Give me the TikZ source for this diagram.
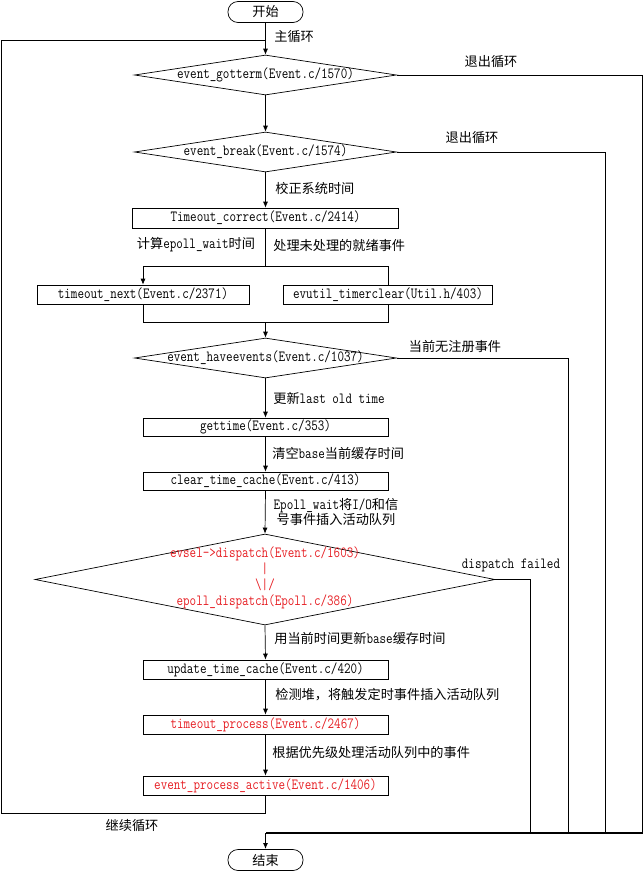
\documentclass[tikz,border=0pt]{standalone}
\usepackage{fontspec}
\setmonofont[FakeStretch=0.82]{Latin Modern Mono}
\newfontfamily\cjk[Scale=0.85]{Noto Sans CJK SC}
\newcommand\zhs[1]{{\cjk #1}}
\usetikzlibrary{shapes.geometric,arrows.meta}
\definecolor{fnred}{RGB}{230,30,35}
\begin{document}
\begin{tikzpicture}[x=1pt,y=-1pt, line width=0.7pt, font=\ttfamily\fontsize{15.5}{16}\selectfont,
  box/.style={draw, rectangle, inner sep=0pt, minimum height=19pt},
  dia/.style={draw, diamond, inner sep=0pt},
  term/.style={draw, rounded corners=10pt, minimum width=75pt, minimum height=21pt, inner sep=0pt},
  arr/.style={-{Latex[length=6pt,width=5pt]}},
  lbl/.style={inner sep=0pt, anchor=west},
  clbl/.style={inner sep=0pt},
  redtxt/.style={text=fnred}]
\useasboundingbox (0,0) rectangle (644,871);

% nodes
\node[term] (start) at (265.5,12) {\zhs{开始}};
\node[dia, minimum width=262pt, minimum height=40pt] (d1) at (265.5,75) {};
\node[clbl] (t1) at (d1) {event\_gotterm(Event.c/1570)};
\node[dia, minimum width=262pt, minimum height=40pt] (d2) at (265.5,152) {};
\node[clbl] (t2) at (d2) {event\_break(Event.c/1574)};
\node[box, minimum width=266pt, minimum height=20pt] (tc) at (265.5,218) {Timeout\_correct(Event.c/2414)};
\node[box, minimum width=212pt] (tn) at (143,294.5) {timeout\_next(Event.c/2371)};
\node[box, minimum width=209pt] (ev) at (388,294.5) {evutil\_timerclear(Util.h/403)};
\node[dia, minimum width=262pt, minimum height=40pt] (d3) at (265.5,358) {};
\node[clbl] (t3) at (d3) {event\_haveevents(Event.c/1037)};
\node[box, minimum width=245pt, minimum height=18pt] (gt) at (265.5,427) {gettime(Event.c/353)};
\node[box, minimum width=245pt, minimum height=18pt] (ctc) at (265.5,481) {clear\_time\_cache(Event.c/413)};
\node[dia, minimum width=460pt, minimum height=91pt] (d4) at (265,579.5) {};
\node[clbl, redtxt, align=center, font=\ttfamily\fontsize{15.5}{16}\selectfont] (t4) at (265,578) {evsel->dispatch(Event.c/1603)\\|\\\textbackslash|/\\epoll\_dispatch(Epoll.c/386)};
\node[box, minimum width=245pt] (utc) at (265.5,669.5) {update\_time\_cache(Event.c/420)};
\node[box, minimum width=245pt, redtxt] (tp) at (265.5,724.5) {timeout\_process(Event.c/2467)};
\node[box, minimum width=245pt, redtxt] (epa) at (265.5,785.5) {event\_process\_active(Event.c/1406)};
\node[term] (end) at (265.5,860) {\zhs{结束}};

% coordinates
\coordinate (lp) at (265.5,40);
\coordinate (ltl) at (1,40);
\coordinate (lbl) at (1,813);
\coordinate (lb) at (265.5,813);
\coordinate (j1) at (265.5,266);
\coordinate (j2) at (265.5,322);
\coordinate (e1) at (642.5,833);
\coordinate (e2) at (605,833);
\coordinate (e3) at (568,833);
\coordinate (e4) at (530,833);
\coordinate (mrg) at (265.5,833);

% connectors
\draw[arr] (start.south) -- (d1.north);
\draw[arr] (d1.south) -- (d2.north);
\draw[arr] (d2.south) -- (tc.north);
\draw (tc.south) -- (j1);
\draw (tn.north |- j1) -- (ev.north |- j1);
\draw[arr] (tn.north |- j1) -- (tn.north);
\draw (ev.north |- j1) -- (ev.north);
\draw (tn.south) -- (tn.south |- j2) -- (ev.south |- j2) -- (ev.south);
\draw[arr] (j2) -- (d3.north);
\draw[arr] (d3.south) -- (gt.north);
\draw[arr] (gt.south) -- (ctc.north);
\draw[arr] (ctc.south) -- (d4.north);
\draw[arr] (d4.south) -- (utc.north);
\draw[arr] (utc.south) -- (tp.north);
\draw[arr] (tp.south) -- (epa.north);
\draw (epa.south) -- (lb) -- (lbl) -- (ltl) -- (lp);
\draw (d1.east) -- (d1.east -| e1) -- (e1);
\draw (d2.east) -- (d2.east -| e2) -- (e2);
\draw (d3.east) -- (d3.east -| e3) -- (e3);
\draw (d4.east) -- (d4.east -| e4) -- (e4);
\draw[line width=1.5pt] (e1) -- (mrg);
\draw[arr, line width=1.2pt] (mrg) -- (end.north);

% labels
\node[lbl] (l1) at (274,37) {\zhs{主循环}};
\node[clbl] (l2) at (491,62) {\zhs{退出循环}};
\node[clbl] (l3) at (472,138) {\zhs{退出循环}};
\node[lbl] (l4) at (275,188) {\zhs{校正系统时间}};
\node[clbl] (l5) at (196,245) {\zhs{计算}epoll\_wait\zhs{时间}};
\node[lbl] (l6) at (273,245) {\zhs{处理未处理的就绪事件}};
\node[clbl] (l7) at (455,346) {\zhs{当前无注册事件}};
\node[lbl] (l8) at (273,398) {\zhs{更新}last old time};
\node[lbl] (l9) at (272,453) {\zhs{清空}base\zhs{当前缓存时间}};
\node[clbl, align=center, font=\ttfamily\fontsize{15.5}{15}\selectfont] (l10) at (336,512.5) {Epoll\_wait\zhs{将}I/O\zhs{和信}\\\zhs{号事件插入活动队列}};
\node[clbl] (l11) at (511,565) {dispatch failed};
\node[lbl] (l12) at (274,638) {\zhs{用当前时间更新}base\zhs{缓存时间}};
\node[lbl] (l13) at (275,695) {\zhs{检测堆，将触发定时事件插入活动队列}};
\node[lbl] (l14) at (272,752) {\zhs{根据优先级处理活动队列中的事件}};
\node[clbl] (l15) at (132,826) {\zhs{继续循环}};
\end{tikzpicture}
\end{document}
